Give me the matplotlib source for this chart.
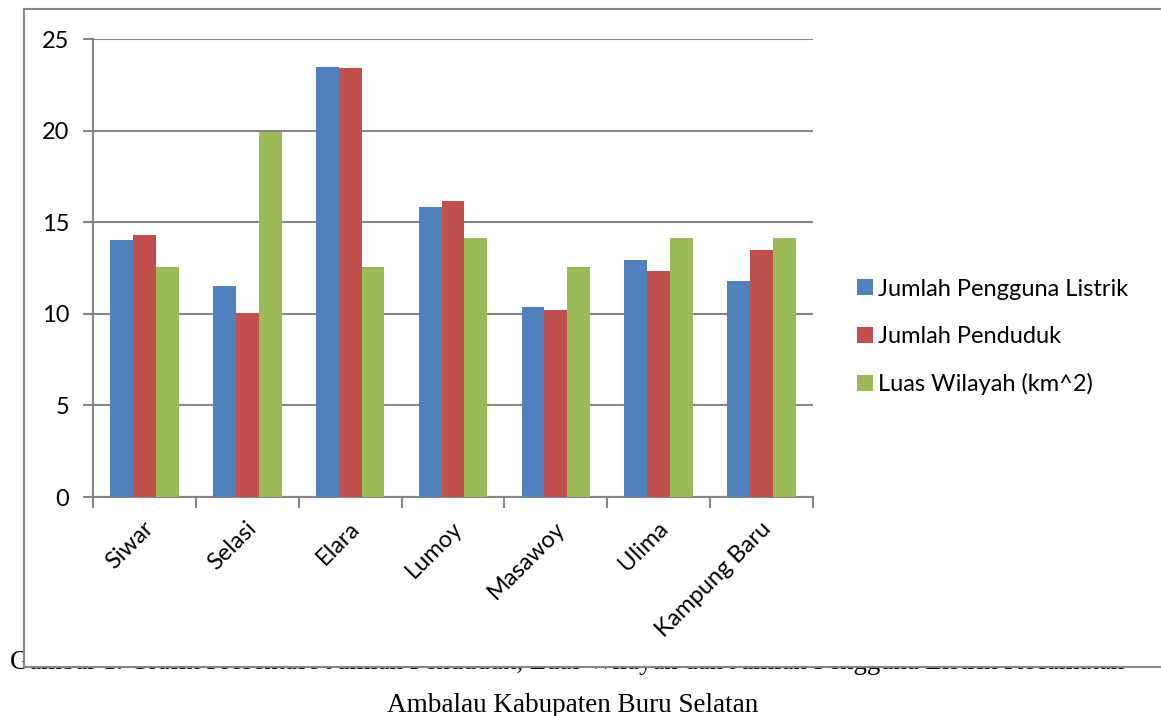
import numpy as np
import matplotlib.pyplot as plt
from matplotlib.patches import Rectangle

kecamatan = ["Siwar", "Selasi", "Elara", "Lumoy", "Masawoy", "Ulima", "Kampung Baru"]
pengguna_listrik = [14.05, 11.50, 23.45, 15.81, 10.39, 12.94, 11.79]
penduduk = [14.30, 10.03, 23.44, 16.14, 10.19, 12.35, 13.48]
luas_wilayah = [12.54, 19.94, 12.54, 14.14, 12.54, 14.14, 14.14]
series_names = ["Jumlah Pengguna Listrik", "Jumlah Penduduk", "Luas Wilayah (km^2)"]
caption_1 = ("Gambar 1. Grafik Presentase Jumlah Penduduk, Luas Wilayah dan "
             "Jumlah Pengguna Listrik Kecamatan")
caption_2 = "Ambalau Kabupaten Buru Selatan"

colors = ["#4F81BD", "#C0504D", "#9BBB59"]
grey = "#868686"
W, H = 1161, 716

fig = plt.figure(figsize=(W / 100, H / 100), dpi=100)
fig.patch.set_facecolor("white")

# caption under the chart object
fig.text(10 / W, 1 - 669 / H, caption_1, family="Liberation Serif", fontsize=19.3,
         ha="left", va="baseline", zorder=0)
fig.text(573 / W, 1 - 712 / H, caption_2, family="Liberation Serif", fontsize=19.5,
         ha="center", va="baseline", zorder=0)

# chart frame, drawn over the first caption line
frame = Rectangle((24 / W, 1 - 667 / H), 1.0, (667 - 9) / H, transform=fig.transFigure,
                  facecolor="white", edgecolor=grey, linewidth=1.5, zorder=1)
fig.patches.append(frame)

ax = fig.add_axes([93 / W, 1 - 497 / H, 720 / W, 458 / H], zorder=2)
ax.set_facecolor("none")

x = np.arange(len(kecamatan))
bw = 1 / 4.5
for i, (vals, c) in enumerate(zip([pengguna_listrik, penduduk, luas_wilayah], colors)):
    ax.bar(x + (i - 1) * bw, vals, width=bw, color=c, label=series_names[i], zorder=3)

ax.set_xlim(-0.5, len(kecamatan) - 0.5)
ax.set_ylim(0, 25)
ax.set_yticks([0, 5, 10, 15, 20, 25])
ax.yaxis.grid(True, color=grey, linewidth=1.5)
ax.set_axisbelow(True)

for s in ["top", "right"]:
    ax.spines[s].set_visible(False)
for s in ["left", "bottom"]:
    ax.spines[s].set_color(grey)
    ax.spines[s].set_linewidth(1.5)

ax.tick_params(axis="y", length=7, width=1.5, color=grey, labelsize=17, pad=10)
for lab in ax.get_yticklabels():
    lab.set_family("Lato")

# category boundary ticks below the axis
ax.set_xticks(np.arange(-0.5, len(kecamatan), 1.0))
ax.set_xticklabels([])
ax.tick_params(axis="x", length=8, width=1.5, color=grey)
for xi, name in zip(x, kecamatan):
    ax.annotate(name, xy=(xi, 0), xycoords=("data", "axes fraction"),
                xytext=(-1, -15), textcoords="offset points", rotation=45,
                rotation_mode="anchor", ha="right", va="top", fontsize=17,
                family="Lato")

ax.legend(loc="center left", bbox_to_anchor=(836 / W, 1 - 337 / H),
          bbox_transform=fig.transFigure, frameon=False,
          prop={"family": "Lato", "size": 17}, handlelength=0.65, handleheight=0.65,
          handletextpad=0.25, labelspacing=1.12)

fig.savefig("out.png", dpi=100)
